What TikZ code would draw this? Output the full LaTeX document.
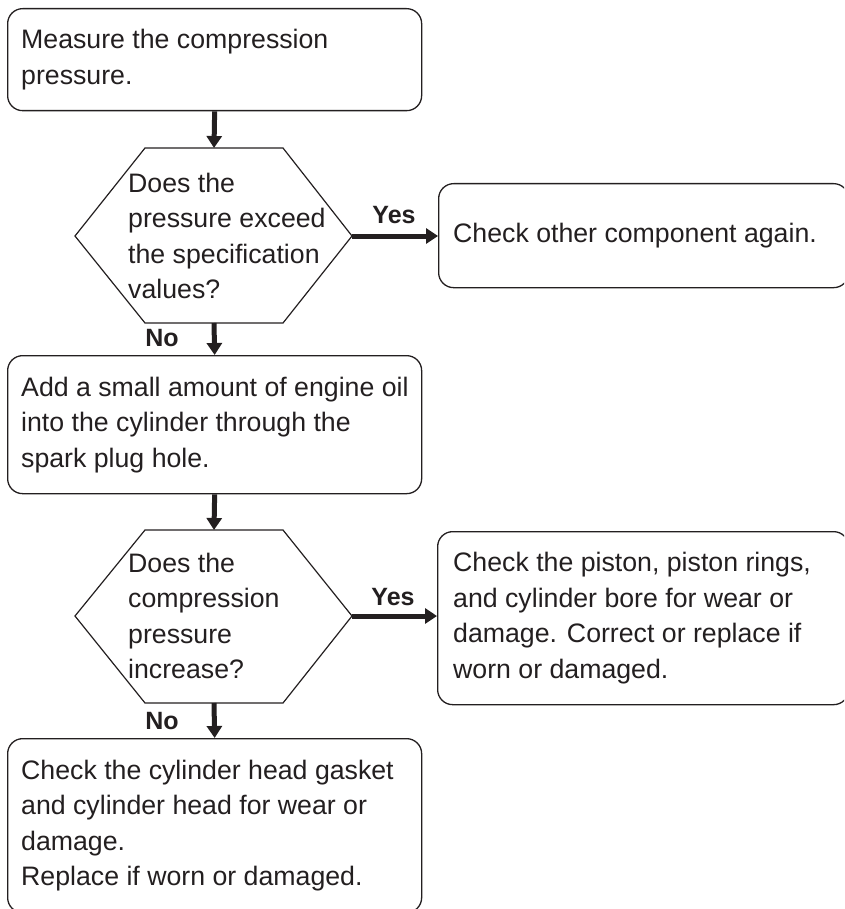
\documentclass[tikz,border=0pt]{standalone}
\usepackage{fontspec}
\setmainfont{Liberation Sans}
\usetikzlibrary{arrows.meta}
\definecolor{ink}{HTML}{231F20}
\begin{document}
\begin{tikzpicture}[x=1pt,y=-1pt,
  frame/.style={draw=ink, line width=1.3pt, rounded corners=15pt, anchor=north west, inner sep=0pt},
  txt/.style={anchor=west, align=left, inner sep=0pt, text=ink, font=\fontsize{26.7}{35.5}\selectfont},
  hexa/.style={draw=ink, line width=1.2pt, line join=miter},
  arr/.style={draw=ink, line width=5pt, -{Triangle[length=12pt,width=15pt]}},
  lab/.style={inner sep=0pt, text=ink, font=\bfseries\fontsize{25}{30}\selectfont}]
\useasboundingbox (0,0) rectangle (844,909);
\clip (0,0) rectangle (844,909);

% box 1
\node[frame, minimum width=414pt, minimum height=102pt] (b1) at (7,8) {};
\node[txt] (t1) at ([xshift=14pt]b1.west) {Measure the compression\\pressure.};

% decision 1
\draw[hexa] (145,148) -- (283,148) -- (352,236) -- (283,323) -- (145,323) -- (75,236) -- cycle;
\coordinate (h1t) at (214,148);
\coordinate (h1r) at (352,236);
\coordinate (h1b) at (214,323);
\node[txt] (q1) at (128,236) {Does the\\pressure exceed\\the specification\\values?};

% box 2
\node[frame, minimum width=410pt, minimum height=104pt] (b2) at (438,183) {};
\node[txt] (t2) at ([xshift=15pt]b2.west) {Check other component again.};

% box 3
\node[frame, minimum width=414pt, minimum height=138pt] (b3) at (7,355) {};
\node[txt] (t3) at ([xshift=14pt]b3.west) {Add a small amount of engine oil\\into the cylinder through the\\spark plug hole.};

% decision 2
\draw[hexa] (145,530) -- (283,530) -- (352,616) -- (283,703) -- (145,703) -- (75,616) -- cycle;
\coordinate (h2t) at (214,530);
\coordinate (h2r) at (352,616);
\coordinate (h2b) at (214,703);
\node[txt] (q2) at (128,616) {Does the\\compression\\pressure\\increase?};

% box 4
\node[frame, minimum width=411pt, minimum height=173pt] (b4) at (437,531) {};
\node[txt] (t4) at ([xshift=16pt]b4.west) {Check the piston, piston rings,\\and cylinder bore for wear or\\damage. Correct or replace if\\worn or damaged.};

% box 5
\node[frame, minimum width=414pt, minimum height=174pt] (b5) at (7,738) {};
\node[txt] (t5) at ([xshift=14pt]b5.west) {Check the cylinder head gasket\\and cylinder head for wear or\\damage.\\Replace if worn or damaged.};

% labels
\node[lab] (y1) at (394,215) {Yes};
\node[lab] (n1) at (162,338) {No};
\node[lab] (y2) at (393,597) {Yes};
\node[lab] (n2) at (162,721) {No};

% connectors
\draw[arr] (b1.south) -- (h1t);
\draw[arr] (h1r) -- (h1r -| b2.west);
\draw[arr] (h1b) -- (b3.north);
\draw[arr] (b3.south) -- (h2t);
\draw[arr] (h2r) -- (h2r -| b4.west);
\draw[arr] (h2b) -- (b5.north);
\end{tikzpicture}
\end{document}
